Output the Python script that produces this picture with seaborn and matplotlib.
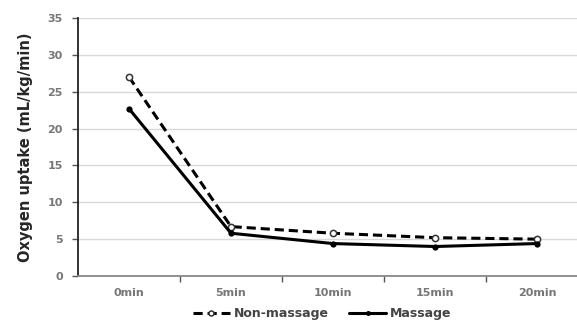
import pandas as pd
import matplotlib.pyplot as plt
import seaborn as sns

# values
times = ['0min', '5min', '10min', '15min', '20min']
non_massage = [27.0, 6.7, 5.8, 5.2, 5.0]
massage = [22.7, 5.8, 4.4, 4.0, 4.4]

df = pd.DataFrame({
    'Time': times * 2,
    'Uptake': non_massage + massage,
    'Group': ['Non-massage'] * 5 + ['Massage'] * 5,
})
df['x'] = df['Time'].map({t: i for i, t in enumerate(times)})

sns.set_style('whitegrid')
plt.rcParams['font.family'] = ['DejaVu Sans']

fig = plt.figure(figsize=(5.77, 3.27), dpi=100)
ax = fig.add_axes([78/577, 51/327, 510/577, 258/327])

nm = df[df['Group'] == 'Non-massage']
ms = df[df['Group'] == 'Massage']
sns.lineplot(data=nm, x='x', y='Uptake', ax=ax, color='black', lw=2.2,
             linestyle=(0, (3, 1.6)), marker='o', markersize=4.5,
             markerfacecolor='white', markeredgecolor='#333333',
             markeredgewidth=1.1, label='Non-massage')
sns.lineplot(data=ms, x='x', y='Uptake', ax=ax, color='black', lw=2.2,
             marker='o', markersize=4.5, markeredgewidth=0,
             label='Massage')

ax.set_xlim(-0.5, 4.5)
ax.set_ylim(0, 35)
ax.set_yticks(range(0, 36, 5))
ax.set_xticks(range(5))
ax.set_xticklabels(times)
ax.set_xticks([0.5, 1.5, 2.5, 3.5], minor=True)
ax.tick_params(axis='x', which='major', bottom=True, length=0, pad=9)
ax.tick_params(axis='x', which='minor', bottom=True, length=4, width=1,
               color='#555555', direction='out')
ax.tick_params(axis='y', left=True, length=4, width=1, color='#555555',
               direction='out', pad=7)
for lab in ax.get_xticklabels() + ax.get_yticklabels():
    lab.set_fontsize(8)
    lab.set_fontweight('bold')
    lab.set_color('#777777')

ax.grid(axis='x', visible=False)
ax.grid(axis='y', color='#d9d9d9', lw=1)
ax.spines['top'].set_visible(False)
ax.spines['right'].set_visible(False)
ax.spines['left'].set_color('#222222')
ax.spines['left'].set_linewidth(1.3)
ax.spines['bottom'].set_color('#888888')
ax.spines['bottom'].set_linewidth(1.3)

ax.set_xlabel('')
ax.set_ylabel('Oxygen uptake (mL/kg/min)', fontsize=10.5, fontweight='bold', labelpad=10)

ax.legend_.remove()
handles, labels = ax.get_legend_handles_labels()
leg = fig.legend(handles, labels, loc='center', bbox_to_anchor=(322/577, 13/327),
                 ncol=2, frameon=False, handlelength=3.0, columnspacing=1.6,
                 handletextpad=0.3, markerscale=0.8,
                 prop={'weight': 'bold', 'size': 9})
for t in leg.get_texts():
    t.set_color('#444444')

fig.savefig('out.png', dpi=100)
